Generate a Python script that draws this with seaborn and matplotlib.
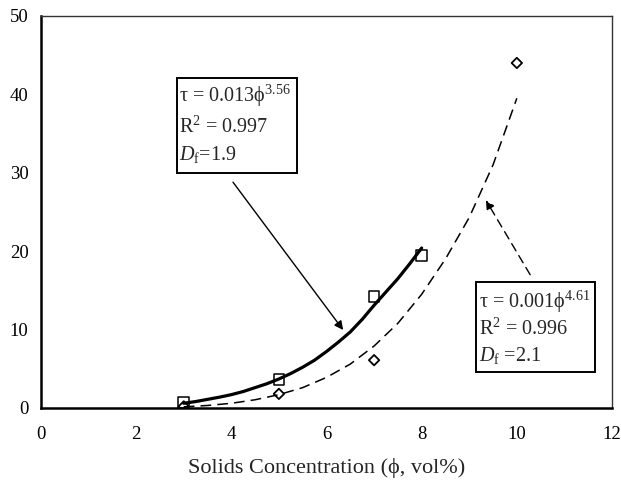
import matplotlib
matplotlib.use("Agg")
import matplotlib.pyplot as plt
import seaborn as sns
import pandas as pd
from matplotlib.patches import Rectangle

# Measured points
sq_x = [3, 5, 7, 8]
sq_y = [0.7, 3.6, 14.2, 19.4]
dm_x = [3, 5, 7, 10]
dm_y = [0.2, 1.8, 6.1, 44.0]

# Fit curves
fit1_x = [3, 3.25, 3.5, 3.75, 4, 4.25, 4.5, 4.75, 5, 5.25, 5.5, 5.75, 6,
          6.25, 6.5, 6.75, 7, 7.25, 7.5, 7.75, 8]
fit1_y = [0.6, 0.82, 1.1, 1.38, 1.7, 2.1, 2.6, 3.1, 3.7, 4.4, 5.2, 6.1, 7.2,
          8.4, 9.7, 11.3, 13.1, 14.8, 16.5, 18.4, 20.4]
fit2_x = [3, 3.5, 4, 4.5, 5, 5.5, 6, 6.5, 7, 7.5, 8, 8.5, 9, 9.5, 10]
fit2_y = [0.15, 0.32, 0.6, 1.05, 1.7, 2.6, 3.9, 5.6, 7.9, 10.8, 14.5, 19.0, 24.3, 31.0, 39.5]

x_ticks = [0, 2, 4, 6, 8, 10, 12]
y_ticks = [0, 10, 20, 30, 40, 50]
x_label = "Solids Concentration (\u03d5, vol%)"

sns.set_theme(style="white")
plt.rcParams["font.family"] = ["Liberation Serif", "DejaVu Serif"]
plt.rcParams["mathtext.fontset"] = "custom"
plt.rcParams["mathtext.rm"] = "Liberation Serif"
plt.rcParams["mathtext.it"] = "Liberation Serif:italic"

fig = plt.figure(figsize=(6.21, 4.83), dpi=100)
ax = fig.add_axes([0.066, 0.1553, 0.9195, 0.8117])

d1 = pd.DataFrame({"x": fit1_x, "y": fit1_y})
d2 = pd.DataFrame({"x": fit2_x, "y": fit2_y})
sns.lineplot(data=d1, x="x", y="y", ax=ax, color="black", lw=2.3, sort=True)
sns.lineplot(data=d2, x="x", y="y", ax=ax, color="black", lw=1.1,
             linestyle=(0, (7, 4)), sort=True)

ps = pd.DataFrame({"x": sq_x, "y": sq_y})
pdm = pd.DataFrame({"x": dm_x, "y": dm_y})
sns.scatterplot(data=ps, x="x", y="y", ax=ax, marker="s", s=60,
                facecolor="none", edgecolor="black", linewidth=1.1, zorder=5)
sns.scatterplot(data=pdm, x="x", y="y", ax=ax, marker="D", s=28,
                facecolor="none", edgecolor="black", linewidth=1.3, zorder=5)

ax.set_xlim(0, 12)
ax.set_ylim(0, 50)
ax.set_xticks(x_ticks)
ax.set_yticks(y_ticks)
ax.set_xticklabels([str(v) for v in x_ticks], fontsize=13.5)
ax.set_yticklabels([str(v) for v in y_ticks], fontsize=13.5)
ax.tick_params(axis="x", direction="in", length=5, width=0.8, pad=13, colors="black")
ax.tick_params(axis="y", direction="out", length=5, width=0.8, pad=4, colors="black")
ax.set_xlabel(x_label, fontsize=16, labelpad=11)
ax.set_ylabel("")

for side in ["left", "bottom"]:
    ax.spines[side].set_linewidth(1.8)
    ax.spines[side].set_color("black")
for side in ["top", "right"]:
    ax.spines[side].set_linewidth(1.0)
    ax.spines[side].set_color("#333333")

# Annotation boxes
ax.add_patch(Rectangle((0.238, 0.599), 0.210, 0.243, transform=ax.transAxes,
                       fc="white", ec="black", lw=1.4, zorder=6))
ax.add_patch(Rectangle((0.761, 0.091), 0.210, 0.231, transform=ax.transAxes,
                       fc="white", ec="black", lw=1.4, zorder=6))

fs = 14.5
tk = dict(transform=ax.transAxes, fontsize=fs, va="baseline", ha="left", zorder=7)
ax.text(0.241, 0.782, "\u03c4 = 0.013\u03d5$^{3.56}$", **tk)
ax.text(0.241, 0.702, "R$^{2}$ = 0.997", **tk)
ax.text(0.241, 0.633, "$D_{\\mathrm{f}}$=1.9", **tk)
ax.text(0.767, 0.256, "\u03c4 = 0.001\u03d5$^{4.61}$", **tk)
ax.text(0.767, 0.186, "R$^{2}$ = 0.996", **tk)
ax.text(0.767, 0.121, "$D_{\\mathrm{f}}$ =2.1", **tk)

ax.annotate("", xy=(6.35, 9.95), xytext=(4.035, 28.8),
            arrowprops=dict(arrowstyle="-|>", color="black", lw=1.0,
                            mutation_scale=13, shrinkA=0, shrinkB=0), zorder=7)
ax.annotate("", xy=(9.35, 26.5), xytext=(10.28, 17.0),
            arrowprops=dict(arrowstyle="-|>", color="black", lw=1.0,
                            linestyle=(0, (6, 4)), mutation_scale=13,
                            shrinkA=0, shrinkB=0), zorder=7)

fig.savefig("out.png", dpi=100)
